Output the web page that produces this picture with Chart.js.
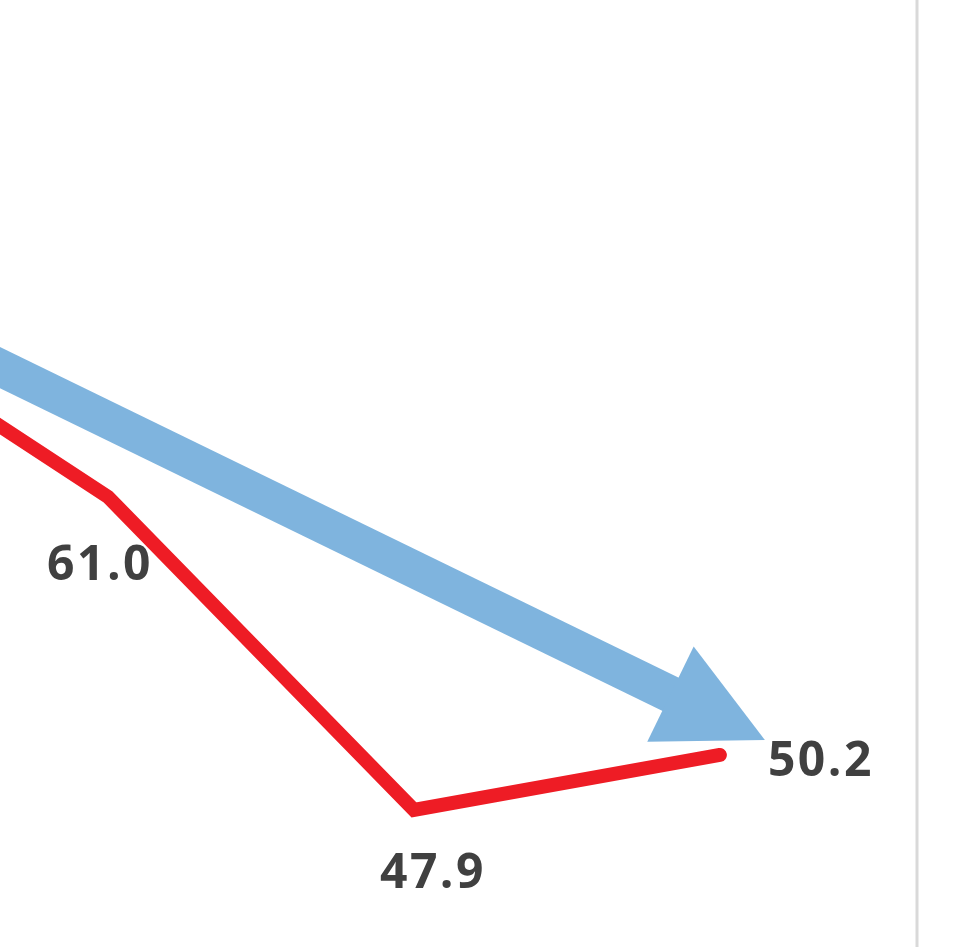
<!DOCTYPE html>
<html>
<head>
<meta charset="utf-8">
<script src="https://cdn.jsdelivr.net/npm/chart.js@4.4.0/dist/chart.umd.min.js"></script>
<style>
html, body { margin: 0; padding: 0; background: #fff; }
#wrap { width: 971px; height: 947px; position: relative; }
</style>
</head>
<body>
<div id="wrap"><canvas id="trendChart"></canvas></div>
<script>
// series (first point lies left of the visible window)
const periods = [0, 1, 2, 3];
const values = [69.4, 61.0, 47.9, 50.2];
const valueLabels = ["", "61.0", "47.9", "50.2"];

// trend arrow: start and tip
const trendPeriods = [0, 3.147];
const trendValues = [70.45, 50.82];

// label placement relative to each point (px)
const labelOffsets = [[0, 0], [-9, 83], [18, 78], [100, 21]];

const RED = "#ee1c25";
const BLUE = "#7fb4de";
const TEXT = "#404040";

const arrowPlugin = {
    id: "trendArrow",
    beforeDatasetsDraw(chart) {
        const meta = chart.getDatasetMeta(1);
        if (!meta || meta.data.length < 2) return;
        const p0 = meta.data[0];
        const p1 = meta.data[1];
        const dx = p1.x - p0.x;
        const dy = p1.y - p0.y;
        const len = Math.sqrt(dx * dx + dy * dy);
        const ux = dx / len, uy = dy / len;
        const headLen = 105, headHalf = 53, shaft = 37;
        const bx = p1.x - ux * headLen;
        const by = p1.y - uy * headLen;
        const ctx = chart.ctx;
        ctx.save();
        ctx.strokeStyle = BLUE;
        ctx.fillStyle = BLUE;
        ctx.lineWidth = shaft;
        ctx.lineCap = "butt";
        ctx.beginPath();
        ctx.moveTo(p0.x, p0.y);
        ctx.lineTo(bx + ux * 2, by + uy * 2);
        ctx.stroke();
        ctx.beginPath();
        ctx.moveTo(p1.x, p1.y);
        ctx.lineTo(bx - uy * headHalf, by + ux * headHalf);
        ctx.lineTo(bx + uy * headHalf, by - ux * headHalf);
        ctx.closePath();
        ctx.fill();
        ctx.restore();
    }
};

const labelPlugin = {
    id: "valueLabels",
    afterDatasetsDraw(chart) {
        const meta = chart.getDatasetMeta(0);
        const ctx = chart.ctx;
        ctx.save();
        ctx.font = "bold 48px 'Open Sans', sans-serif";
        ctx.letterSpacing = "2.5px";
        ctx.fillStyle = TEXT;
        ctx.textAlign = "center";
        ctx.textBaseline = "alphabetic";
        meta.data.forEach((pt, i) => {
            if (!valueLabels[i]) return;
            ctx.fillText(valueLabels[i], pt.x + labelOffsets[i][0] + 1, pt.y + labelOffsets[i][1]);
        });
        ctx.restore();
    },
    afterDraw(chart) {
        const ctx = chart.ctx;
        const x = chart.chartArea.right + 1;
        ctx.save();
        ctx.strokeStyle = "#d9d9d9";
        ctx.lineWidth = 3;
        ctx.beginPath();
        ctx.moveTo(x, 0);
        ctx.lineTo(x, chart.height);
        ctx.stroke();
        ctx.restore();
    }
};

new Chart(document.getElementById("trendChart"), {
    type: "line",
    data: {
        datasets: [{
            data: periods.map((p, i) => ({ x: p, y: values[i] })),
            borderColor: RED,
            borderWidth: 14,
            borderCapStyle: "round",
            borderJoinStyle: "miter",
            pointRadius: 0,
            tension: 0
        }, {
            data: trendPeriods.map((p, i) => ({ x: p, y: trendValues[i] })),
            showLine: false,
            pointRadius: 0
        }]
    },
    options: {
        responsive: true,
        maintainAspectRatio: false,
        animation: false,
        layout: { padding: { left: 0, right: 55, top: 0, bottom: 0 } },
        scales: {
            x: { type: "linear", min: 0.647, max: 3.641, display: false },
            y: { min: 42.16, max: 81.80, display: false }
        },
        plugins: {
            legend: { display: false },
            tooltip: { enabled: false }
        }
    },
    plugins: [arrowPlugin, labelPlugin]
});
</script>
</body>
</html>
